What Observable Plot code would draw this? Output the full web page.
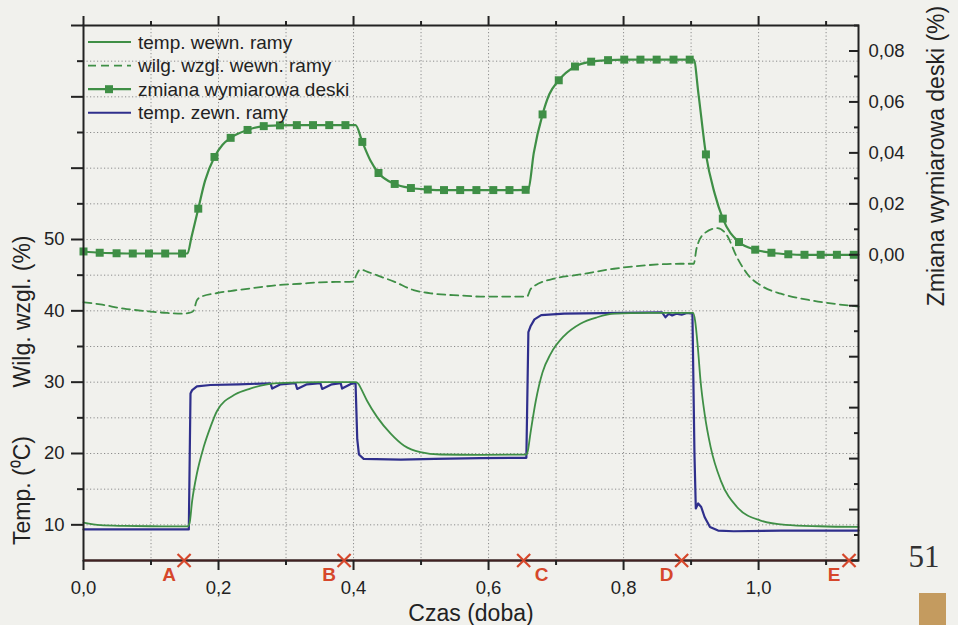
<!DOCTYPE html>
<html><head><meta charset="utf-8">
<script src="https://cdn.jsdelivr.net/npm/d3@7"></script>
<script src="https://cdn.jsdelivr.net/npm/@observablehq/plot@0.6"></script>
<style>html,body{margin:0;padding:0;background:#f1f1ed;} #chart{width:958px;height:625px;overflow:hidden}</style>
</head><body><div id="chart"></div>
<script>
// ---- data (time in doba) ----
const legendLabels = ["temp. wewn. ramy", "wilg. wzgl. wewn. ramy", "zmiana wymiarowa deski", "temp. zewn. ramy"];

// zmiana wymiarowa deski (%), markers
const deskiMarkT = [0.000,0.024,0.049,0.073,0.097,0.121,0.146,0.170,0.194,0.218,0.243,0.267,0.291,0.316,0.340,0.364,0.388,0.413,0.437,0.461,0.485,0.510,0.534,0.558,0.582,0.607,0.631,0.655,0.680,0.704,0.728,0.752,0.777,0.801,0.825,0.849,0.874,0.898,0.922,0.947,0.971,0.995,1.019,1.044,1.068,1.092,1.116,1.141];
const deskiMarkV = [0.0013,0.0008,0.0006,0.0005,0.0005,0.0005,0.0005,0.0181,0.0384,0.0459,0.0490,0.0505,0.0508,0.0509,0.0509,0.0509,0.0509,0.0443,0.0321,0.0278,0.0262,0.0256,0.0254,0.0254,0.0254,0.0254,0.0254,0.0255,0.0551,0.0685,0.0739,0.0758,0.0764,0.0766,0.0766,0.0766,0.0766,0.0766,0.0394,0.0142,0.0050,0.0020,0.0008,0.0002,0.0000,0.0000,0.0000,0.0000];
// zmiana wymiarowa deski (%), line
const deskiT = [0.000,0.024,0.049,0.073,0.097,0.121,0.146,0.154,0.160,0.170,0.180,0.194,0.206,0.218,0.243,0.267,0.291,0.316,0.340,0.364,0.388,0.403,0.413,0.425,0.437,0.461,0.485,0.510,0.534,0.558,0.582,0.607,0.631,0.655,0.659,0.667,0.680,0.690,0.704,0.728,0.752,0.777,0.801,0.825,0.849,0.874,0.898,0.904,0.911,0.922,0.935,0.947,0.971,0.995,1.019,1.044,1.068,1.092,1.116,1.141,1.148];
const deskiV = [0.0013,0.0008,0.0006,0.0005,0.0005,0.0005,0.0005,0.0005,0.0070,0.0181,0.0290,0.0384,0.0432,0.0459,0.0490,0.0505,0.0508,0.0509,0.0509,0.0509,0.0509,0.0509,0.0443,0.0370,0.0321,0.0278,0.0262,0.0256,0.0254,0.0254,0.0254,0.0254,0.0254,0.0255,0.0258,0.0400,0.0551,0.0630,0.0685,0.0739,0.0758,0.0764,0.0766,0.0766,0.0766,0.0766,0.0766,0.0766,0.0630,0.0394,0.0240,0.0142,0.0050,0.0020,0.0008,0.0002,0.0000,0.0000,0.0000,0.0000,0.0000];

// wilg. wzgl. wewn. ramy (%)
const humT = [0.000,0.025,0.060,0.094,0.124,0.146,0.160,0.163,0.168,0.175,0.198,0.223,0.252,0.287,0.321,0.351,0.400,0.404,0.410,0.420,0.440,0.460,0.489,0.519,0.559,0.588,0.620,0.657,0.662,0.668,0.697,0.736,0.786,0.835,0.884,0.904,0.908,0.919,0.939,0.953,0.968,0.983,1.008,1.033,1.082,1.148];
const humV = [41.2,40.9,40.3,39.95,39.7,39.6,39.8,40.0,41.5,42.0,42.5,42.85,43.2,43.6,43.8,44.0,44.1,45.0,45.8,45.5,44.8,44.1,42.9,42.4,42.15,42.0,42.0,42.0,43.0,43.5,44.5,45.1,45.9,46.4,46.6,46.6,48.7,50.8,51.6,50.6,47.5,45.2,43.3,42.4,41.4,40.6];

// temp. wewn. ramy (°C)
const tinT = [0.000,0.025,0.060,0.100,0.154,0.157,0.161,0.168,0.178,0.188,0.198,0.225,0.247,0.272,0.297,0.350,0.403,0.407,0.410,0.420,0.435,0.455,0.475,0.499,0.529,0.588,0.656,0.658,0.662,0.670,0.680,0.692,0.712,0.736,0.761,0.786,0.835,0.903,0.906,0.910,0.914,0.920,0.929,0.944,0.968,1.003,1.040,1.090,1.148];
const tinV = [10.3,9.95,9.85,9.8,9.77,10.2,13.4,17.2,20.9,23.7,26.0,28.3,29.1,29.7,29.9,30.0,30.0,29.8,29.3,27.4,25.1,22.8,21.1,20.2,19.86,19.8,19.85,20.3,22.8,27.4,31.4,33.97,36.5,38.2,39.1,39.6,39.7,39.7,38.6,34.9,30.2,25.6,20.9,16.2,12.5,10.6,10.0,9.8,9.7];

// temp. zewn. ramy (°C)
const toutT = [0.000,0.080,0.156,0.1585,0.161,0.168,0.188,0.230,0.277,0.2795,0.292,0.314,0.3165,0.331,0.351,0.3535,0.368,0.381,0.383,0.396,0.403,0.4055,0.408,0.415,0.470,0.520,0.588,0.656,0.659,0.662,0.668,0.678,0.712,0.800,0.857,0.862,0.867,0.872,0.878,0.886,0.894,0.902,0.905,0.907,0.9105,0.915,0.920,0.928,0.940,0.963,1.033,1.148];
const toutV = [9.35,9.35,9.35,28.4,28.9,29.4,29.6,29.7,29.85,29.1,29.7,29.85,29.05,29.7,29.85,29.05,29.7,29.85,29.1,29.75,29.85,22.0,19.86,19.25,19.15,19.25,19.35,19.4,37.0,37.8,38.8,39.4,39.6,39.7,39.8,39.1,39.6,39.35,39.6,39.45,39.7,39.6,20.0,12.3,13.0,12.5,11.1,9.7,9.2,9.1,9.2,9.2];

// punkty A–E
const markLabels = ["A","B","C","D","E"];
const markT = [0.149,0.386,0.652,0.886,1.134];

// tick values
const xMajor = [0,0.2,0.4,0.6,0.8,1.0];
const xMinor = [0.1,0.3,0.5,0.7,0.9,1.1];
const gridXv = [0.1,0.2,0.3,0.4,0.5,0.6,0.7,0.8,0.9,1.0,1.1];
const gridYv = [10,15,20,25,30,35,40,45,50,55,60,65,70,75];
const yLabeled = [10,20,30,40,50];
const yMajorUnl = [60,70,80];
const yMinor = [15,25,35,45,55,65,75];
const rLabeled = [0.00,0.02,0.04,0.06,0.08];
const rMajor = [-0.12,-0.10,-0.08,-0.06,-0.04,-0.02,0.00,0.02,0.04,0.06,0.08];
const rMinor = [-0.11,-0.09,-0.07,-0.05,-0.03,-0.01,0.01,0.03,0.05,0.07,0.09];

// ---- mapping of right axis onto left scale ----
const Y0 = 5, Y1 = 80, R0 = -0.12, R1 = 0.09;
const toLeft = v => Y0 + (v - R0) * (Y1 - Y0) / (R1 - R0);
const fromLeft = y => R0 + (y - Y0) * (R1 - R0) / (Y1 - Y0);

const GREEN = "#3f8f46", BLUE = "#2f2f8c", RED = "#d6472b", INK = "#222";
const comma = s => s.replace(".", ",");
const FS = 18.5, TS = 23;

const deskiLine = deskiT.map((t, i) => ({t, y: toLeft(deskiV[i])}));
const deskiMarks = deskiMarkT.map((t, i) => ({t, y: toLeft(deskiMarkV[i])}));
const hum = humT.map((t, i) => ({t, v: humV[i]}));
const tin = tinT.map((t, i) => ({t, v: tinV[i]}));
const tout = toutT.map((t, i) => ({t, v: toutV[i]}));
const marks = markT.map((t, i) => ({t, label: markLabels[i], y: Y0}));

const gridStyle = {stroke: "#8c8c8c", strokeOpacity: 1, strokeWidth: 1, strokeDasharray: "1.2,2.3"};
const blank = () => "";

const chart = Plot.plot({
  width: 958, height: 625,
  marginLeft: 83, marginRight: 100, marginTop: 25, marginBottom: 65,
  style: {background: "#f1f1ed", fontFamily: "'Liberation Sans', Arial, sans-serif", fontSize: "19px", color: INK},
  x: {domain: [0, 1.148], label: null},
  y: {domain: [Y0, Y1], label: null},
  marks: [
    Plot.gridX(gridXv, gridStyle),
    Plot.gridY(gridYv, gridStyle),
    Plot.line(hum, {x: "t", y: "v", stroke: GREEN, strokeWidth: 1.8, strokeDasharray: "8,5", curve: "monotone-x"}),
    Plot.line(tout, {x: "t", y: "v", stroke: BLUE, strokeWidth: 2.2, curve: "linear"}),
    Plot.line(tin, {x: "t", y: "v", stroke: GREEN, strokeWidth: 1.8, curve: "monotone-x"}),
    Plot.line(deskiLine, {x: "t", y: "y", stroke: GREEN, strokeWidth: 2.2, curve: "monotone-x"}),
    Plot.dot(deskiMarks, {x: "t", y: "y", symbol: "square", r: 4.5, fill: GREEN, stroke: null}),
    Plot.frame({stroke: INK, strokeWidth: 2}),
    Plot.ruleY([Y0], {stroke: "#422222", strokeWidth: 2.2}),
    // bottom axis
    Plot.axisX(xMajor, {anchor: "bottom", tickSize: 10, tickPadding: 10, strokeWidth: 2, fontSize: FS, label: null, tickFormat: d => comma(d.toFixed(1))}),
    Plot.axisX(xMinor, {anchor: "bottom", tickSize: 5, strokeWidth: 2, label: null, tickFormat: blank}),
    // top axis
    Plot.axisX(xMajor, {anchor: "top", tickSize: 10, strokeWidth: 2, label: null, tickFormat: blank}),
    Plot.axisX(xMinor, {anchor: "top", tickSize: 5, strokeWidth: 2, label: null, tickFormat: blank}),
    // left axis
    Plot.axisY(yLabeled, {anchor: "left", tickSize: 12, tickPadding: 7, strokeWidth: 2, fontSize: FS, label: null}),
    Plot.axisY(yMajorUnl, {anchor: "left", tickSize: 12, strokeWidth: 2, label: null, tickFormat: blank}),
    Plot.axisY(yMinor, {anchor: "left", tickSize: 6, strokeWidth: 2, label: null, tickFormat: blank}),
    // right axis (inward ticks)
    Plot.axisY(rMajor.map(toLeft), {anchor: "right", tickSize: -10, strokeWidth: 2, label: null, tickFormat: blank}),
    Plot.axisY(rMinor.map(toLeft), {anchor: "right", tickSize: -5, strokeWidth: 2, label: null, tickFormat: blank}),
    Plot.axisY(rLabeled.map(toLeft), {anchor: "right", tickSize: 0, tickPadding: 10, fontSize: FS, label: null,
      tickFormat: y => comma((Math.round(fromLeft(y) * 100) / 100 + 0).toFixed(2))}),
    // A–E markers
    Plot.dot(marks, {x: "t", y: "y", symbol: "times", r: 6, stroke: RED, strokeWidth: 2.2}),
    Plot.text(marks, {filter: d => d.label !== "C", x: "t", y: "y", text: "label", dx: -15, dy: 14, fill: RED, fontWeight: "bold", fontSize: 19}),
    Plot.text(marks, {filter: d => d.label === "C", x: "t", y: "y", text: "label", dx: 18, dy: 14, fill: RED, fontWeight: "bold", fontSize: 19}),
    // axis titles
    Plot.text(["Czas (doba)"], {frameAnchor: "bottom", text: d => d, textAnchor: "middle", dy: 60, fontSize: TS, fill: INK}),
    Plot.text(["Wilg. wzgl. (%)"], {frameAnchor: "left", text: d => d, textAnchor: "middle", rotate: -90, dx: -61, dy: 18.5, fontSize: TS, fill: INK}),
    Plot.text(["Temp. (\u2070C)"], {frameAnchor: "left", text: d => d, textAnchor: "middle", rotate: -90, dx: -61, dy: 197.5, fontSize: TS, fill: INK}),
    Plot.text(["Zmiana wymiarowa deski (%)"], {frameAnchor: "right", text: d => d, textAnchor: "middle", rotate: -90, dx: 78, dy: -137, fontSize: TS, fill: INK})
  ]
});

document.getElementById("chart").appendChild(chart);

// legend
const svg = d3.select(chart);
const lg = svg.append("g").attr("font-family", "'Liberation Sans', Arial, sans-serif").attr("font-size", 19)
  .attr("fill", INK).attr("text-anchor", "start");
const rows = [
  {color: GREEN, dash: null, marker: false, w: 1.8},
  {color: GREEN, dash: "8,5", marker: false, w: 1.8},
  {color: GREEN, dash: null, marker: true, w: 2.2},
  {color: BLUE, dash: null, marker: false, w: 2}
];
rows.forEach((r, i) => {
  const y = 42 + i * 23.6;
  lg.append("line").attr("x1", 88).attr("x2", 131).attr("y1", y).attr("y2", y)
    .attr("stroke", r.color).attr("stroke-width", r.w).attr("stroke-dasharray", r.dash);
  if (r.marker) lg.append("rect").attr("x", 105).attr("y", y - 4).attr("width", 8).attr("height", 8).attr("fill", r.color);
  lg.append("text").attr("x", 138).attr("y", y).attr("dy", "0.35em").attr("text-anchor", "start").text(legendLabels[i]);
});

// page decoration
svg.append("text").attr("x", 924).attr("y", 567).attr("text-anchor", "middle")
  .attr("font-family", "'Liberation Serif', 'DejaVu Serif', serif").attr("font-size", 31).attr("fill", "#333").text("51");
svg.append("rect").attr("x", 919).attr("y", 593).attr("width", 27).attr("height", 32).attr("fill", "#c49b5f");
</script></body></html>
